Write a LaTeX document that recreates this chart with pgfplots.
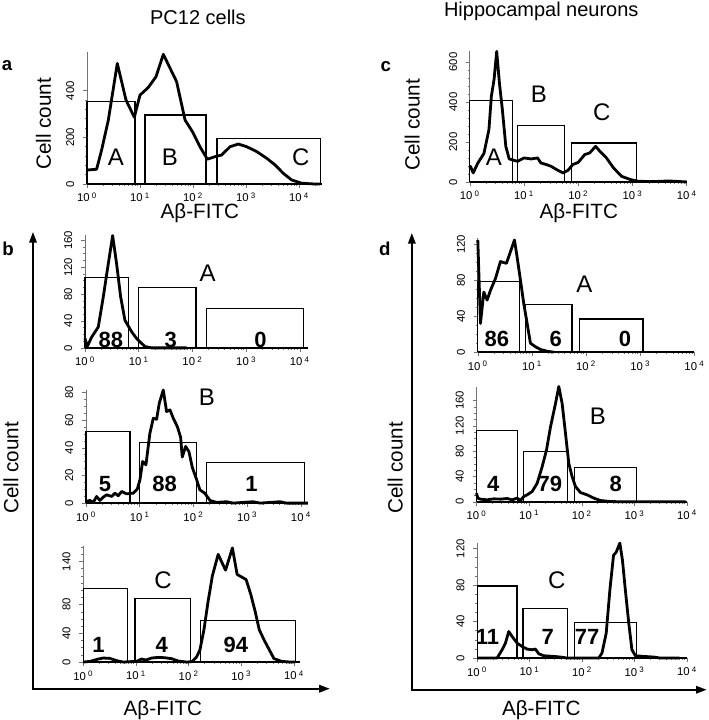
\documentclass[border=0pt]{standalone}
\usepackage{pgfplots}
\pgfplotsset{compat=1.18}
\usetikzlibrary{arrows.meta}
\usepackage{fontspec}
\setmainfont{Liberation Sans}
\newcommand{\ttl}{\fontsize{15.5}{18}\selectfont}
\newcommand{\ttt}{\fontsize{15}{18}\selectfont}
\newcommand{\gatelet}{\fontsize{18}{20}\selectfont}
\newcommand{\bignum}{\fontsize{16.5}{18}\selectfont\bfseries}
\newcommand{\plet}{\fontsize{14}{16}\selectfont\bfseries}
\newcommand{\tl}[1]{10\textsuperscript{ #1}}
\begin{document}
\begin{tikzpicture}
\begin{scope}[x=0.75pt,y=-0.75pt]
\path[use as bounding box] (0,0) rectangle (708,720);
\end{scope}

% ---------- panel a ----------
\begin{axis}[scale only axis, axis lines=left, axis line style={-},
  x axis line style={line width=1.8pt, black}, y axis line style={line width=0.5pt, black!55},
  xtick={0,1,2,3,4}, xticklabels={\tl{0},\tl{1},\tl{2},\tl{3},\tl{4}},
  minor xtick={0.301,0.477,0.602,0.699,0.778,0.845,0.903,0.954,1.301,1.477,1.602,1.699,1.778,1.845,1.903,1.954,2.301,2.477,2.602,2.699,2.778,2.845,2.903,2.954,3.301,3.477,3.602,3.699,3.778,3.845,3.903,3.954,4.301},
  tick align=outside, major tick length=3pt, minor tick length=1.6pt,
  tick style={black!55, line width=0.4pt},
  tick label style={font=\fontsize{8.5}{9}\selectfont},
  yticklabel style={rotate=90, anchor=south}, yticklabel shift=3pt,
  /pgf/number format/assume math mode=true,
  xmin=0, ymin=0, clip=false,
  at={(65.25pt,-138pt)}, anchor=south west, width=176.25pt, height=99pt,
  xmax=4.43, ymax=566, ytick={0,200,400}, minor y tick num=4]
\addplot[black, line width=0.9pt, no marks] coordinates {(0,0) (0,353) (0.906,353) (0.906,0)};
\addplot[black, line width=0.9pt, no marks] coordinates {(1.094,0) (1.094,296) (2.245,296) (2.245,0)};
\addplot[black, line width=0.9pt, no marks] coordinates {(2.453,0) (2.453,196) (4.41,196) (4.41,0)};
\addplot[black, line width=2.1pt, line join=round, no marks] coordinates {(0,60) (0.025,60) (0.182,63) (0.277,146) (0.403,274) (0.572,517) (0.736,360) (0.893,286) (1.0,381) (1.157,414) (1.302,460) (1.44,556) (1.69,439) (1.85,274) (1.99,224) (2.13,160) (2.27,106) (2.415,117) (2.54,124) (2.70,160) (2.855,171) (3.01,160) (3.20,139) (3.39,110) (3.55,81) (3.70,46) (3.86,17) (4.05,3) (4.27,0) (4.40,0)};
\end{axis}

% ---------- panel c ----------
\begin{axis}[scale only axis, axis lines=left, axis line style={-},
  x axis line style={line width=1.8pt, black}, y axis line style={line width=0.5pt, black!55},
  xtick={0,1,2,3,4}, xticklabels={\tl{0},\tl{1},\tl{2},\tl{3},\tl{4}},
  minor xtick={0.301,0.477,0.602,0.699,0.778,0.845,0.903,0.954,1.301,1.477,1.602,1.699,1.778,1.845,1.903,1.954,2.301,2.477,2.602,2.699,2.778,2.845,2.903,2.954,3.301,3.477,3.602,3.699,3.778,3.845,3.903,3.954},
  tick align=outside, major tick length=3pt, minor tick length=1.6pt,
  tick style={black!55, line width=0.4pt},
  tick label style={font=\fontsize{8.5}{9}\selectfont},
  yticklabel style={rotate=90, anchor=south}, yticklabel shift=3pt,
  /pgf/number format/assume math mode=true,
  xmin=0, ymin=0, clip=false,
  at={(352.5pt,-136.5pt)}, anchor=south west, width=162.75pt, height=98.25pt,
  xmax=4, ymax=655, ytick={0,200,400,600}, minor y tick num=4]
\addplot[black, line width=0.9pt, no marks] coordinates {(0,0) (0,407) (0.79,407) (0.79,0)};
\addplot[black, line width=0.9pt, no marks] coordinates {(0.875,0) (0.875,282) (1.74,282) (1.74,0)};
\addplot[black, line width=0.9pt, no marks] coordinates {(1.875,0) (1.875,195) (3.07,195) (3.07,0)};
\addplot[black, line width=2.1pt, line join=round, no marks] coordinates {(0,70) (0.012,78) (0.062,45) (0.149,95) (0.26,142) (0.353,262) (0.397,428) (0.447,512) (0.496,653) (0.546,495) (0.60,362) (0.664,178) (0.726,115) (0.88,103) (1.0,120) (1.13,115) (1.25,120) (1.31,95) (1.41,87) (1.50,78) (1.625,58) (1.72,45) (1.81,58) (1.90,87) (2.0,98) (2.12,137) (2.21,145) (2.32,178) (2.40,153) (2.52,120) (2.65,70) (2.80,28) (2.96,12) (3.11,3) (3.42,2) (3.67,5) (3.86,2) (4.0,0)};
\end{axis}

% ---------- panel b-A ----------
\begin{axis}[scale only axis, axis lines=left, axis line style={-},
  x axis line style={line width=1.8pt, black}, y axis line style={line width=0.5pt, black!55},
  xtick={0,1,2,3,4}, xticklabels={\tl{0},\tl{1},\tl{2},\tl{3},\tl{4}},
  minor xtick={0.301,0.477,0.602,0.699,0.778,0.845,0.903,0.954,1.301,1.477,1.602,1.699,1.778,1.845,1.903,1.954,2.301,2.477,2.602,2.699,2.778,2.845,2.903,2.954,3.301,3.477,3.602,3.699,3.778,3.845,3.903,3.954},
  tick align=outside, major tick length=3pt, minor tick length=1.6pt,
  tick style={black!55, line width=0.4pt},
  tick label style={font=\fontsize{8.5}{9}\selectfont},
  yticklabel style={rotate=90, anchor=south}, yticklabel shift=3pt,
  /pgf/number format/assume math mode=true,
  xmin=0, ymin=0, clip=false,
  at={(63.75pt,-261pt)}, anchor=south west, width=167.25pt, height=84.75pt,
  xmax=4.149, ymax=168, ytick={0,40,80,120,160}, minor y tick num=3]
\addplot[black, line width=0.9pt, no marks] coordinates {(0,0) (0,105) (0.806,105) (0.806,0)};
\addplot[black, line width=0.9pt, no marks] coordinates {(0.992,0) (0.992,90) (2.065,90) (2.065,0)};
\addplot[black, line width=0.9pt, no marks] coordinates {(2.26,0) (2.26,59) (4.07,59) (4.07,0)};
\addplot[black, line width=2.1pt, line join=round, no marks] coordinates {(0,14) (0.043,2) (0.124,16) (0.248,31) (0.341,76) (0.434,125) (0.515,167) (0.589,125) (0.664,76) (0.744,41) (0.868,24) (0.961,14) (1.023,9) (1.116,2) (1.24,0) (1.52,0) (1.89,0)};
\end{axis}

% ---------- panel b-B ----------
\begin{axis}[scale only axis, axis lines=left, axis line style={-},
  x axis line style={line width=1.8pt, black}, y axis line style={line width=0.5pt, black!55},
  xtick={0,1,2,3,4}, xticklabels={\tl{0},\tl{1},\tl{2},\tl{3},\tl{4}},
  minor xtick={0.301,0.477,0.602,0.699,0.778,0.845,0.903,0.954,1.301,1.477,1.602,1.699,1.778,1.845,1.903,1.954,2.301,2.477,2.602,2.699,2.778,2.845,2.903,2.954,3.301,3.477,3.602,3.699,3.778,3.845,3.903,3.954},
  tick align=outside, major tick length=3pt, minor tick length=1.6pt,
  tick style={black!55, line width=0.4pt},
  tick label style={font=\fontsize{8.5}{9}\selectfont},
  yticklabel style={rotate=90, anchor=south}, yticklabel shift=3pt,
  /pgf/number format/assume math mode=true,
  xmin=0, ymin=0, clip=false,
  at={(64.5pt,-377.475pt)}, anchor=south west, width=166.5pt, height=85pt,
  xmax=4.13, ymax=82, ytick={0,20,40,60,80}, minor y tick num=3]
\addplot[black, line width=0.9pt, no marks] coordinates {(0,0) (0,52) (0.82,52) (0.82,0)};
\addplot[black, line width=0.9pt, no marks] coordinates {(0.99,0) (0.99,44) (2.06,44) (2.06,0)};
\addplot[black, line width=0.9pt, no marks] coordinates {(2.245,0) (2.245,29.4) (4.06,29.4) (4.06,0)};
\addplot[black, line width=2.1pt, line join=round, no marks] coordinates {(0,1.2) (0.074,1.9) (0.136,0.5) (0.198,4.8) (0.26,1.9) (0.322,4.3) (0.384,6.0) (0.478,4.8) (0.54,7.2) (0.60,5.3) (0.664,8.4) (0.757,6.7) (0.88,7.2) (0.955,10.1) (1.005,16.9) (1.054,30.1) (1.116,27.7) (1.19,50.6) (1.253,61.4) (1.315,60.7) (1.364,72.3) (1.439,81.9) (1.50,66.3) (1.563,67.5) (1.625,61.4) (1.70,55.4) (1.761,47.7) (1.792,33.3) (1.854,41.0) (1.916,37.3) (1.978,26.0) (2.06,16.9) (2.12,9.6) (2.21,7.2) (2.31,1.9) (2.43,0.5) (2.62,1.0) (2.74,0) (3.11,1) (3.24,0) (3.61,1) (3.73,0) (4.13,0)};
\end{axis}

% ---------- panel b-C ----------
\begin{axis}[scale only axis, axis lines=left, axis line style={-},
  x axis line style={line width=1.8pt, black}, y axis line style={line width=0.5pt, black!55},
  xtick={0,1,2,3,4}, xticklabels={\tl{0},\tl{1},\tl{2},\tl{3},\tl{4}},
  minor xtick={0.301,0.477,0.602,0.699,0.778,0.845,0.903,0.954,1.301,1.477,1.602,1.699,1.778,1.845,1.903,1.954,2.301,2.477,2.602,2.699,2.778,2.845,2.903,2.954,3.301,3.477,3.602,3.699,3.778,3.845,3.903,3.954},
  tick align=outside, major tick length=3pt, minor tick length=1.6pt,
  tick style={black!55, line width=0.4pt},
  tick label style={font=\fontsize{8.5}{9}\selectfont},
  yticklabel style={rotate=90, anchor=south}, yticklabel shift=3pt,
  /pgf/number format/assume math mode=true,
  xmin=0, ymin=0, clip=false,
  at={(62.475pt,-496.725pt)}, anchor=south west, width=162.5pt, height=86.7pt,
  xmax=4.11, ymax=161, ytick={0,40,80,140}, minor ytick={10,20,30,50,60,70,90,100,110,120,130,150,160}]
\addplot[black, line width=0.9pt, no marks] coordinates {(0,0) (0,103) (0.835,103) (0.835,0)};
\addplot[black, line width=0.9pt, no marks] coordinates {(0.98,0) (0.98,88) (2.04,88) (2.04,0)};
\addplot[black, line width=0.9pt, no marks] coordinates {(2.23,0) (2.23,58) (4.03,58) (4.03,0)};
\addplot[black, line width=2.1pt, line join=round, no marks] coordinates {(0,0) (0.127,0.9) (0.285,4.2) (0.38,5.6) (0.506,5.1) (0.633,1.9) (0.76,0) (0.886,0.5) (1.01,0.9) (1.108,4.2) (1.19,2.8) (1.297,5.6) (1.424,6.5) (1.55,6.0) (1.677,4.7) (1.80,1.4) (1.96,0) (2.06,0.5) (2.15,7.0) (2.215,17.2) (2.29,45) (2.37,85) (2.45,120) (2.56,150) (2.70,128) (2.83,159) (2.92,122) (3.09,115) (3.18,94) (3.26,71) (3.34,45) (3.43,31) (3.53,17) (3.62,4.7) (3.77,0.9) (3.92,0) (4.02,0)};
\end{axis}

% ---------- panel d-A ----------
\begin{axis}[scale only axis, axis lines=left, axis line style={-},
  x axis line style={line width=1.8pt, black}, y axis line style={line width=0.5pt, black!55},
  xtick={0,1,2,3,4}, xticklabels={\tl{0},\tl{1},\tl{2},\tl{3},\tl{4}},
  minor xtick={0.301,0.477,0.602,0.699,0.778,0.845,0.903,0.954,1.301,1.477,1.602,1.699,1.778,1.845,1.903,1.954,2.301,2.477,2.602,2.699,2.778,2.845,2.903,2.954,3.301,3.477,3.602,3.699,3.778,3.845,3.903,3.954},
  tick align=outside, major tick length=3pt, minor tick length=1.6pt,
  tick style={black!55, line width=0.4pt},
  tick label style={font=\fontsize{8.5}{9}\selectfont},
  yticklabel style={rotate=90, anchor=south}, yticklabel shift=3pt,
  /pgf/number format/assume math mode=true,
  xmin=0, ymin=0, clip=false,
  at={(358.5pt,-264.225pt)}, anchor=south west, width=162.5pt, height=85.5pt,
  xmax=4, ymax=127, ytick={0,40,80,120}, minor y tick num=3]
\addplot[black, line width=0.9pt, no marks] coordinates {(0,0) (0,78.5) (0.775,78.5) (0.775,0)};
\addplot[black, line width=0.9pt, no marks] coordinates {(0.88,0) (0.88,53) (1.74,53) (1.74,0)};
\addplot[black, line width=0.9pt, no marks] coordinates {(1.877,0) (1.877,37) (3.05,37) (3.05,0)};
\addplot[black, line width=2.1pt, line join=round, no marks] coordinates {(0,125) (0.049,32) (0.111,67) (0.172,58) (0.234,69) (0.326,82) (0.418,101) (0.529,99) (0.603,112) (0.677,125) (0.726,106) (0.788,80) (0.849,54) (0.911,32) (0.972,10) (1.065,6) (1.157,3) (1.28,1) (1.40,0)};
\end{axis}

% ---------- panel d-B ----------
\begin{axis}[scale only axis, axis lines=left, axis line style={-},
  x axis line style={line width=1.8pt, black}, y axis line style={line width=0.5pt, black!55},
  xtick={0,1,2,3,4}, xticklabels={\tl{0},\tl{1},\tl{2},\tl{3},\tl{4}},
  minor xtick={0.301,0.477,0.602,0.699,0.778,0.845,0.903,0.954,1.301,1.477,1.602,1.699,1.778,1.845,1.903,1.954,2.301,2.477,2.602,2.699,2.778,2.845,2.903,2.954,3.301,3.477,3.602,3.699,3.778,3.845,3.903,3.954},
  tick align=outside, major tick length=3pt, minor tick length=1.6pt,
  tick style={black!55, line width=0.4pt},
  tick label style={font=\fontsize{8.5}{9}\selectfont},
  yticklabel style={rotate=90, anchor=south}, yticklabel shift=3pt,
  /pgf/number format/assume math mode=true,
  xmin=0, ymin=0, clip=false,
  at={(357.525pt,-376.5pt)}, anchor=south west, width=158pt, height=86.5pt,
  xmax=4, ymax=182, ytick={0,40,80,120,160}, minor y tick num=3]
\addplot[black, line width=0.9pt, no marks] coordinates {(0,0) (0,113) (0.772,113) (0.772,0)};
\addplot[black, line width=0.9pt, no marks] coordinates {(0.886,0) (0.886,79) (1.734,79) (1.734,0)};
\addplot[black, line width=0.9pt, no marks] coordinates {(1.86,0) (1.86,54) (3.04,54) (3.04,0)};
\addplot[black, line width=2.1pt, line join=round, no marks] coordinates {(0,13.6) (0.025,5.8) (0.076,4.2) (0.2,3.1) (0.33,4.7) (0.456,4.2) (0.582,5.2) (0.677,3.1) (0.772,5.8) (0.835,2.1) (0.899,8.4) (0.962,11.0) (1.057,16.2) (1.152,29.3) (1.247,55.4) (1.329,81.6) (1.405,118) (1.5,155) (1.563,182) (1.627,155) (1.69,108) (1.753,60.7) (1.816,39.7) (1.88,24.1) (1.975,14.6) (2.1,11.0) (2.23,5.8) (2.35,2.1) (2.54,0.5) (2.73,0) (3.97,0)};
\end{axis}

% ---------- panel d-C ----------
\begin{axis}[scale only axis, axis lines=left, axis line style={-},
  x axis line style={line width=1.8pt, black}, y axis line style={line width=0.5pt, black!55},
  xtick={0,1,2,3,4}, xticklabels={\tl{0},\tl{1},\tl{2},\tl{3},\tl{4}},
  minor xtick={0.301,0.477,0.602,0.699,0.778,0.845,0.903,0.954,1.301,1.477,1.602,1.699,1.778,1.845,1.903,1.954,2.301,2.477,2.602,2.699,2.778,2.845,2.903,2.954,3.301,3.477,3.602,3.699,3.778,3.845,3.903,3.954},
  tick align=outside, major tick length=3pt, minor tick length=1.6pt,
  tick style={black!55, line width=0.4pt},
  tick label style={font=\fontsize{8.5}{9}\selectfont},
  yticklabel style={rotate=90, anchor=south}, yticklabel shift=3pt,
  /pgf/number format/assume math mode=true,
  xmin=0, ymin=0, clip=false,
  at={(357.975pt,-493.725pt)}, anchor=south west, width=157.5pt, height=86.25pt,
  xmax=4, ymax=126, ytick={0,40,80,120}, minor y tick num=3]
\addplot[black, line width=0.9pt, no marks] coordinates {(0,0) (0,79) (0.76,79) (0.76,0)};
\addplot[black, line width=0.9pt, no marks] coordinates {(0.876,0) (0.876,54.5) (1.727,54.5) (1.727,0)};
\addplot[black, line width=0.9pt, no marks] coordinates {(1.854,0) (1.854,39) (3.03,39) (3.03,0)};
\addplot[black, line width=2.1pt, line join=round, no marks] coordinates {(0,0) (0.381,0) (0.476,9.1) (0.54,16.4) (0.603,29.1) (0.667,23.6) (0.762,16.4) (0.857,12.7) (0.952,9.8) (1.048,9.1) (1.11,9.8) (1.175,4.7) (1.27,2.5) (1.46,1.8) (1.587,1.1) (1.714,0) (2.317,0) (2.38,5.5) (2.46,27.3) (2.53,74.5) (2.60,112.7) (2.65,116) (2.72,126) (2.77,107) (2.825,74.5) (2.89,38.2) (2.95,9.1) (3.016,2.5) (3.17,1.8) (3.365,1.1) (3.49,0) (3.86,0)};
\end{axis}

\begin{scope}[x=0.75pt,y=-0.75pt]
% ---------- big arrows ----------
\draw[line width=1.5pt, {Triangle[length=8pt,width=5.5pt]}-{Triangle[length=8pt,width=5.5pt]}] (33,232) -- (33,689) -- (330,689);
\draw[line width=1.5pt, {Triangle[length=8pt,width=5.5pt]}-{Triangle[length=8pt,width=5.5pt]}] (412,233) -- (412,690) -- (707,690);

% ---------- titles and labels ----------
\node[font=\ttt, anchor=base, inner sep=0] at (198,25) {PC12 cells};
\node[font=\ttt, anchor=base, inner sep=0] at (541.5,17) {Hippocampal neurons};
\node[font=\plet, anchor=base, inner sep=0] at (7,71) {a};
\node[font=\plet, anchor=base, inner sep=0] at (386,72) {c};
\node[font=\plet, anchor=base, inner sep=0] at (8,256) {b};
\node[font=\plet, anchor=base, inner sep=0] at (385,256) {d};

\node[font=\ttl, rotate=90, inner sep=0] at (43.5,124) {Cell count};
\node[font=\ttl, rotate=90, inner sep=0] at (412.5,125) {Cell count};
\node[font=\ttl, rotate=90, inner sep=0] at (11,468) {Cell count};
\node[font=\ttl, rotate=90, inner sep=0] at (395.5,468) {Cell count};

\node[font=\ttl, anchor=base, inner sep=0] at (200,219) {Aβ-FITC};
\node[font=\ttl, anchor=base, inner sep=0] at (579,219) {Aβ-FITC};
\node[font=\ttl, anchor=base, inner sep=0] at (163,716) {Aβ-FITC};
\node[font=\ttl, anchor=base, inner sep=0] at (541.5,716) {Aβ-FITC};

% gate letters
\node[font=\gatelet, inner sep=0] at (116,157.5) {A};
\node[font=\gatelet, inner sep=0] at (170,157.5) {B};
\node[font=\gatelet, inner sep=0] at (301,157.5) {C};
\node[font=\gatelet, inner sep=0] at (494,157.5) {A};
\node[font=\gatelet, inner sep=0] at (539,94) {B};
\node[font=\gatelet, inner sep=0] at (602,112.5) {C};
\node[font=\gatelet, inner sep=0] at (207.7,273.3) {A};
\node[font=\gatelet, inner sep=0] at (207,397.5) {B};
\node[font=\gatelet, inner sep=0] at (163,580) {C};
\node[font=\gatelet, inner sep=0] at (584.5,284) {A};
\node[font=\gatelet, inner sep=0] at (598,416.7) {B};
\node[font=\gatelet, inner sep=0] at (557,580) {C};

% percentages
\node[font=\bignum, inner sep=0] at (111,340) {88};
\node[font=\bignum, inner sep=0] at (170.8,340) {3};
\node[font=\bignum, inner sep=0] at (260.5,340) {0};
\node[font=\bignum, inner sep=0] at (105,484) {5};
\node[font=\bignum, inner sep=0] at (164.7,484) {88};
\node[font=\bignum, inner sep=0] at (251.7,484) {1};
\node[font=\bignum, inner sep=0] at (98.5,645) {1};
\node[font=\bignum, inner sep=0] at (161.7,645) {4};
\node[font=\bignum, inner sep=0] at (236,645) {94};
\node[font=\bignum, inner sep=0] at (497,339) {86};
\node[font=\bignum, inner sep=0] at (556,339) {6};
\node[font=\bignum, inner sep=0] at (625.3,339) {0};
\node[font=\bignum, inner sep=0] at (493.5,484) {4};
\node[font=\bignum, inner sep=0] at (550,484) {79};
\node[font=\bignum, inner sep=0] at (616,484) {8};
\node[font=\bignum, inner sep=0] at (487.7,636.7) {11};
\node[font=\bignum, inner sep=0] at (548,636.7) {7};
\node[font=\bignum, inner sep=0] at (587.3,636.7) {77};
\end{scope}
\end{tikzpicture}
\end{document}
